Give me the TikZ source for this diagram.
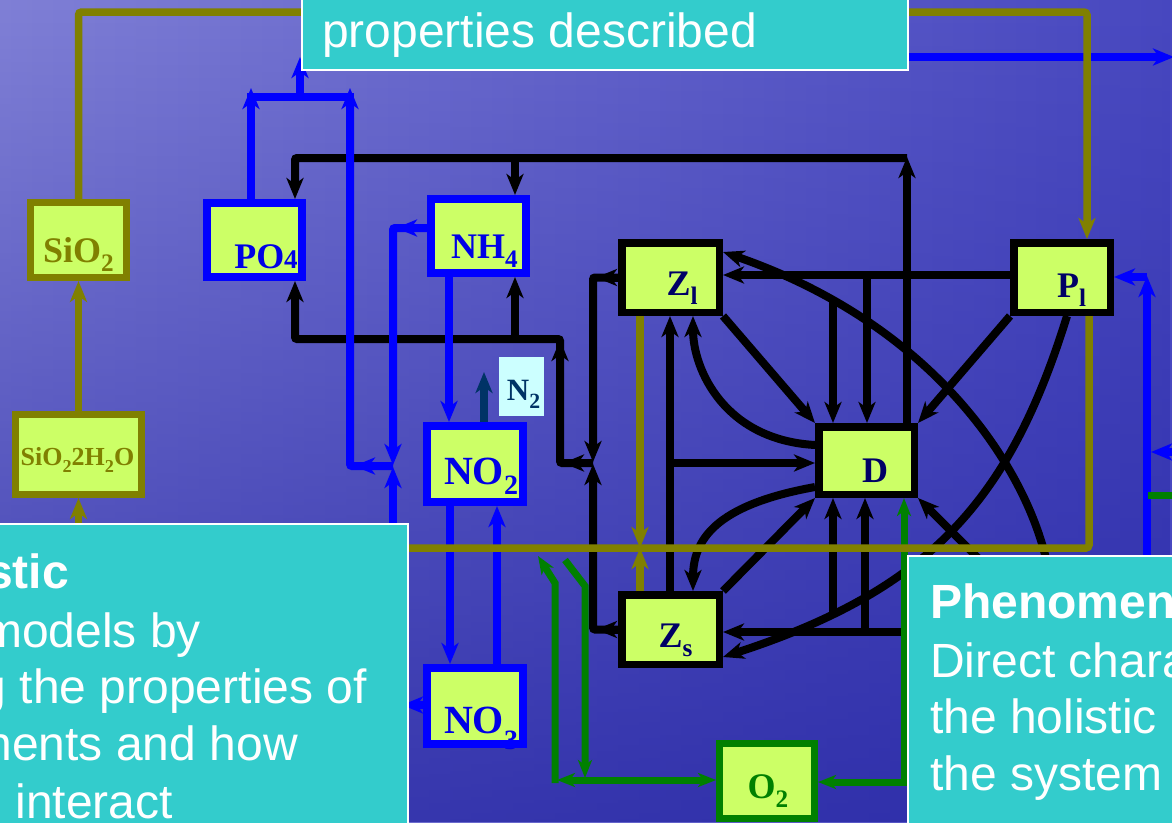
\documentclass[tikz,border=0pt]{standalone}
\usepackage{fontspec}
\setmainfont{Liberation Serif}
\newfontfamily\sansf{Liberation Sans}
\usetikzlibrary{arrows.meta,fadings}
\definecolor{nodefill}{HTML}{CCFF66}
\definecolor{olv}{HTML}{808000}
\definecolor{pblue}{HTML}{0000FF}
\definecolor{grn}{HTML}{008000}
\definecolor{navy}{HTML}{000066}
\definecolor{tblue}{HTML}{0000E6}
\definecolor{ntwo}{HTML}{003366}
\definecolor{n2fill}{HTML}{CCFFFF}
\definecolor{cyanbox}{HTML}{33CCCC}
\definecolor{bgA}{RGB}{128,128,214}
\definecolor{bgB}{RGB}{72,72,192}
\definecolor{bgD}{RGB}{36,36,162}
\newcommand\mysub[2][0.27em]{\raisebox{-#1}{\scalebox{0.7}{#2}}}
\begin{document}
\begin{tikzpicture}[x=1pt,y=-1pt,
  >={Stealth[length=21pt,width=17pt,inset=6pt]},
  gtip/.tip={Stealth[length=18pt,width=14pt,inset=5pt]},
  box/.style={rectangle, fill=nodefill, inner sep=0pt},
  kbox/.style={box, draw=black, line width=7.5pt},
  bbox/.style={box, draw=pblue, line width=8pt},
  obox/.style={box, draw=olv, line width=7pt},
  gbox/.style={box, draw=grn, line width=7pt},
  lab/.style={inner sep=0pt, anchor=base, font=\bfseries\fontsize{#1}{#1}\selectfont},
  lab/.default=36,
  kline/.style={draw=black, line width=8pt},
  bline/.style={draw=pblue, line width=8pt},
  gline/.style={draw=grn, line width=7pt},
  oline/.style={draw=olv, line width=7.5pt},
  panel/.style={fill=cyanbox, draw=white, line width=2pt},
  ptext/.style={inner sep=0pt, text=white, font=\sansf\fontsize{48}{57}\selectfont},
  ptitle/.style={ptext, font=\sansf\bfseries\fontsize{48}{57}\selectfont},
]
\useasboundingbox (0,0) rectangle (1172,822);
\clip (0,0) rectangle (1172,822);
\shade[left color=bgA, right color=bgB] (0,0) rectangle (1172,822);
\fill[bgD, opacity=0.75, path fading=north] (0,0) rectangle (1172,822);

% boxes
\node[obox, minimum width=96pt, minimum height=75pt] (SiO2) at (78.5,240) {};
\node[obox, minimum width=126pt, minimum height=80pt] (SiOH) at (78.5,454.5) {};
\node[bbox, minimum width=95pt, minimum height=74pt] (PO4) at (254.5,240) {};
\node[bbox, minimum width=95pt, minimum height=74pt] (NH4) at (478.5,236) {};
\node[bbox, minimum width=96pt, minimum height=76pt] (NO2) at (475,464) {};
\node[bbox, minimum width=96pt, minimum height=76pt] (NO3) at (475,706) {};
\node[kbox, minimum width=97.5pt, minimum height=69.5pt] (Zl) at (670.5,277.5) {};
\node[kbox, minimum width=96.5pt, minimum height=69.5pt] (Pl) at (1062,277.5) {};
\node[kbox, minimum width=95.5pt, minimum height=67.5pt] (D) at (866.5,460.5) {};
\node[kbox, minimum width=97.5pt, minimum height=69.5pt] (Zs) at (670.5,629.5) {};
\node[gbox, minimum width=95pt, minimum height=75pt] (O2) at (767,781) {};
\node[box, fill=n2fill, minimum width=45pt, minimum height=59pt] (N2) at (521.5,386.5) {};

% black connectors
\draw[kline,->] (907,0 |- D.north) -- (907,157);
\draw[kline,->,rounded corners=2pt] (907,158) -- (295,158) -- (295,0 |- PO4.north);
\draw[kline,->] (515,158) -- (515,0 |- NH4.north);
\draw[kline,->,rounded corners=2pt] (593,463) -- (560,463) -- (560,339) -- (295,339) -- (295,0 |- PO4.south);
\draw[kline,->] (593,463) -- (563,463);
\draw[kline,->] (560,420) -- (560,340);
\draw[kline,->] (515,339) -- (515,0 |- NH4.south);
\draw[kline,->,rounded corners=2pt] (Zl.west) -- (593,277.5) -- (593,462);
\draw[kline,->] (Zl.west) -- (596,277.5);
\draw[kline,->,rounded corners=2pt] (Zs.west) -- (593,629.5) -- (593,464);
\draw[kline,->] (Zs.west) -- (596,629.5);
\draw[kline,->] (Pl.west |- 0,275) -- (Zl.east |- 0,275);
\draw[kline,->] (867,275) -- (867,0 |- D.north);
\draw[kline,->] (833,300) -- (833,0 |- D.north);
\draw[kline,->] (Zl.south east) -- (D.north west);
\draw[kline,->] (Pl.south west) -- (D.north east);
\draw[kline,->] (D.west |- 0,445) .. controls (725,440) and (693,370) .. (693,0 |- Zl.south);
\draw[kline,->] (670,0 |- Zs.north) -- (670,0 |- Zl.south);
\draw[kline,->] (670,463) -- (D.west |- 0,463);
\draw[kline,->] (D.west |- 0,487) .. controls (715,505) and (693,540) .. (693,0 |- Zs.north);
\draw[kline,->] (Zs.north east) -- (D.south west);
\draw[kline,->] (833,617) -- (833,0 |- D.south);
\draw[kline,->] (865,632) -- (865,0 |- D.south);
\draw[kline,->] (912,632) -- (Zs.east |- 0,632);
\draw[kline,->] (1050,580) .. controls (1038,490) and (950,330) .. (Zl.east |- 0,252);
\draw[kline,->] (1067,0 |- Pl.south) .. controls (1010,500) and (930,590) .. (Zs.east |- 0,657);
\draw[kline,->] (990,570) -- (D.south east);

% blue connectors
\draw[bline,->] (251,0 |- PO4.north) -- (251,88);
\draw[bline] (247,97) -- (354,97);
\draw[bline,->] (300,97) -- (300,57);
\draw[bline,->,rounded corners=2pt] (393,466) -- (350,466) -- (350,88);
\draw[bline,->] (393,466) -- (354,466);
\draw[bline,->,rounded corners=2pt] (NH4.west |- 0,228) -- (393,228) -- (393,465);
\draw[bline,->] (NH4.west |- 0,228) -- (396,228);
\draw[bline,->] (393,560) -- (393,467);
\draw[bline,->] (449,0 |- NH4.south) -- (449,0 |- NO2.north);
\draw[bline,->] (450,0 |- NO2.south) -- (450,0 |- NO3.north);
\draw[bline,->] (497,0 |- NO3.north) -- (497,0 |- NO2.south);
\draw[bline,->] (NO3.west |- 0,705) -- (402,705);
\draw[bline,->] (900,57) -- (1174,57);
\draw[bline,->] (1147,570) -- (1147,276);
\draw[bline,->] (1147,277) -- (Pl.east |- 0,277);
\draw[bline,->] (1180,452) -- (1151,452);
\draw[gline] (1148,495) -- (1180,495);

% green connectors
\draw[gline,{gtip}-{gtip}] (904,0 |- D.south) -- (904,782) -- (O2.east |- 0,782);
\draw[gline,-{gtip}] (585,780) -- (O2.west |- 0,780);
\draw[gline,-{gtip}] (565,560) -- (585,586) -- (585,778);
\draw[gline,-{gtip}] (585,780) -- (557,780);
\draw[gline,-{gtip}] (555,783) -- (555,583) -- (538,556);

% olive connectors
\draw[oline,->,rounded corners=3pt] (SiO2.north) |- (1087,12) -- (1087,0 |- Pl.north);
\draw[oline,->] (SiOH.north) -- (SiO2.south);
\draw[oline,->] (78.5,560) -- (SiOH.south);
\draw[oline,rounded corners=3pt] (400,548) -- (1089,548) -- (1089,0 |- Pl.south);
\draw[oline,->] (640,0 |- Zl.south) -- (640,548);
\draw[oline,->] (640,0 |- Zs.north) -- (640,548);

% N2 escape
\draw[draw=ntwo, line width=8pt, ->] (484,0 |- NO2.north) -- (484,372);

% labels
\node[lab, text=olv] (tSiO2) at (78.5,262) {SiO\mysub{2}};
\node[lab=26, text=olv] (tSiOH) at (77.5,465) {SiO\mysub{2}2H\mysub{2}O};
\node[lab, text=tblue] (tPO4) at (266,268) {PO\scalebox{0.75}{4}};
\node[lab, text=tblue] (tNH4) at (484.5,258) {NH\mysub{4}};
\node[lab=40, text=tblue] (tNO2) at (481,484) {NO\mysub{2}};
\node[lab=40, text=tblue] (tNO3) at (481,733) {NO\mysub[0.42em]{3}};
\fill[pblue] (NO3.south west) rectangle ([yshift=8pt]NO3.south east);
\node[lab, text=navy] (tZl) at (682,295) {Z\mysub{l}};
\node[lab, text=navy] (tPl) at (1071.5,297) {P\mysub{l}};
\node[lab, text=navy] (tD) at (875,482) {D};
\node[lab, text=navy] (tZs) at (675.5,647) {Z\mysub{s}};
\node[lab=31, text=ntwo] (tN2) at (523.5,400) {N\mysub{2}};
\node[lab, text=grn] (tO2) at (768,798) {O\mysub{2}};

% text panels
\path[panel] (302,-10) rectangle (908,70);
\node[ptext, anchor=base west] (ttop) at (322,47) {properties described};
\path[panel] (-10,524) rectangle (408,832);
\node[ptitle, anchor=base east] (tl1) at (69,588) {stic};
\node[ptext, anchor=base east] (tl2) at (201,647) {models by};
\node[ptext, anchor=base east] (tl3) at (367,703) {g the properties of};
\node[ptext, anchor=base east] (tl4) at (298,760) {nents and how};
\node[ptext, anchor=base east] (tl5) at (173,818) {interact};
\path[panel] (908,556) rectangle (1182,832);
\node[ptitle, anchor=base west] (tr1) at (930,618) {Phenomen};
\node[ptext, anchor=base west] (tr2) at (930,677) {Direct chara};
\node[ptext, anchor=base west] (tr3) at (930,733) {the holistic p};
\node[ptext, anchor=base west] (tr4) at (930,790) {the system};
\end{tikzpicture}
\end{document}
